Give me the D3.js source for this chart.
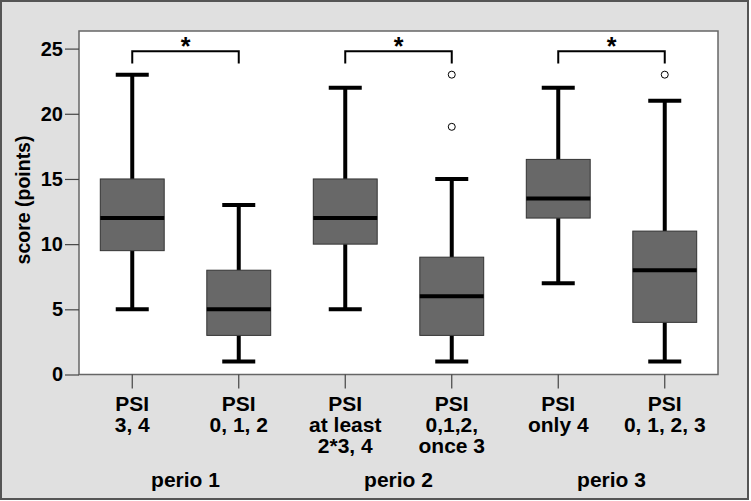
<!DOCTYPE html>
<html>
<head>
<meta charset="utf-8">
<script src="https://cdn.jsdelivr.net/npm/d3@7"></script>
<style>
  body { margin: 0; background: #fff; }
  text { font-family: "Liberation Sans", Arial, sans-serif; font-weight: bold; fill: #000; }
</style>
</head>
<body>
<svg id="chart" width="751" height="501"></svg>
<script>
// groups, their label lines and the period they belong to
var groups = ["g1", "g2", "g3", "g4", "g5", "g6"];
var labelLines = [
    ["PSI", "3, 4"],
    ["PSI", "0, 1, 2"],
    ["PSI", "at least", "2*3, 4"],
    ["PSI", "0,1,2,", "once 3"],
    ["PSI", "only 4"],
    ["PSI", "0, 1, 2, 3"]
];
var periods = ["perio 1", "perio 2", "perio 3"];

// box statistics
var whiskerLow = [5, 1, 5, 1, 7, 1];
var q1 = [9.5, 3, 10, 3, 12, 4];
var median = [12, 5, 12, 6, 13.5, 8];
var q3 = [15, 8, 15, 9, 16.5, 11];
var whiskerHigh = [23, 13, 22, 15, 22, 21];
var outliers = [[], [], [], [19, 23], [], [23]];

var yTicks = [0, 5, 10, 15, 20, 25];

var svg = d3.select("#chart");
var W = 751, H = 501;
var margin = { left: 79, top: 31, right: 718, bottom: 374.5 };

// backgrounds
svg.append("rect").attr("x", 1).attr("y", 1).attr("width", W - 4).attr("height", H - 3)
    .attr("fill", "#e0e0e0").attr("stroke", "#555").attr("stroke-width", 2);
svg.append("rect").attr("x", margin.left).attr("y", margin.top)
    .attr("width", margin.right - margin.left).attr("height", margin.bottom - margin.top)
    .attr("fill", "#fff").attr("stroke", "#666").attr("stroke-width", 1.5);

var x = d3.scaleBand().domain(groups).range([margin.left, margin.right]).padding(0);
var y = d3.scaleLinear().domain([0, 26.35]).range([margin.bottom, margin.top]);

// y axis
var yAxis = svg.append("g").attr("transform", "translate(" + margin.left + ",0)")
    .call(d3.axisLeft(y).tickValues(yTicks).tickSize(14).tickPadding(2));
yAxis.select(".domain").remove();
yAxis.selectAll("line").attr("stroke", "#444").attr("stroke-width", 1.2);
yAxis.selectAll("text").style("font-size", "20px").attr("fill", "#000");

svg.append("text")
    .attr("transform", "translate(30,200) rotate(-90)")
    .attr("text-anchor", "middle")
    .style("font-size", "19.5px")
    .text("score (points)");

// x axis
var xAxis = svg.append("g").attr("transform", "translate(0," + margin.bottom + ")")
    .call(d3.axisBottom(x).tickSize(14).tickFormat(""));
xAxis.select(".domain").remove();
xAxis.selectAll("line").attr("stroke", "#444").attr("stroke-width", 1.2);

var labels = svg.append("g");
groups.forEach(function(g, i) {
    var t = labels.append("text")
        .attr("x", x(g) + x.bandwidth() / 2)
        .attr("y", 411)
        .attr("text-anchor", "middle")
        .style("font-size", "21px");
    labelLines[i].forEach(function(line, j) {
        t.append("tspan").attr("x", x(g) + x.bandwidth() / 2)
            .attr("dy", j === 0 ? 0 : 21).text(line);
    });
});
periods.forEach(function(p, k) {
    labels.append("text")
        .attr("x", x(groups[2 * k]) + x.bandwidth())
        .attr("y", 487)
        .attr("text-anchor", "middle")
        .style("font-size", "21px")
        .text(p);
});

// boxes
var boxW = x.bandwidth() * 0.6, capW = x.bandwidth() * 0.31;
groups.forEach(function(g, i) {
    var cx = x(g) + x.bandwidth() / 2;
    var b = svg.append("g");
    b.append("line").attr("x1", cx).attr("x2", cx)
        .attr("y1", y(whiskerLow[i])).attr("y2", y(q1[i]))
        .attr("stroke", "#000").attr("stroke-width", 4);
    b.append("line").attr("x1", cx).attr("x2", cx)
        .attr("y1", y(whiskerHigh[i])).attr("y2", y(q3[i]))
        .attr("stroke", "#000").attr("stroke-width", 4);
    [whiskerLow[i], whiskerHigh[i]].forEach(function(v) {
        b.append("line").attr("x1", cx - capW / 2).attr("x2", cx + capW / 2)
            .attr("y1", y(v)).attr("y2", y(v))
            .attr("stroke", "#000").attr("stroke-width", 4);
    });
    b.append("rect").attr("x", cx - boxW / 2).attr("y", y(q3[i]))
        .attr("width", boxW).attr("height", y(q1[i]) - y(q3[i]))
        .attr("fill", "#686868").attr("stroke", "#333").attr("stroke-width", 1);
    b.append("line").attr("x1", cx - boxW / 2).attr("x2", cx + boxW / 2)
        .attr("y1", y(median[i])).attr("y2", y(median[i]))
        .attr("stroke", "#000").attr("stroke-width", 4);
    outliers[i].forEach(function(v) {
        b.append("circle").attr("cx", cx).attr("cy", y(v)).attr("r", 3.5)
            .attr("fill", "none").attr("stroke", "#000").attr("stroke-width", 1);
    });
});

// significance brackets
periods.forEach(function(p, k) {
    var xa = x(groups[2 * k]) + x.bandwidth() / 2;
    var xb = x(groups[2 * k + 1]) + x.bandwidth() / 2;
    svg.append("path")
        .attr("d", "M" + xa + "," + y(23.85) + "V" + y(24.8) + "H" + xb + "V" + y(23.85))
        .attr("fill", "none").attr("stroke", "#000").attr("stroke-width", 2);
    svg.append("text").attr("x", (xa + xb) / 2).attr("y", 55)
        .attr("text-anchor", "middle").style("font-size", "25px").text("*");
});
</script>
</body>
</html>
